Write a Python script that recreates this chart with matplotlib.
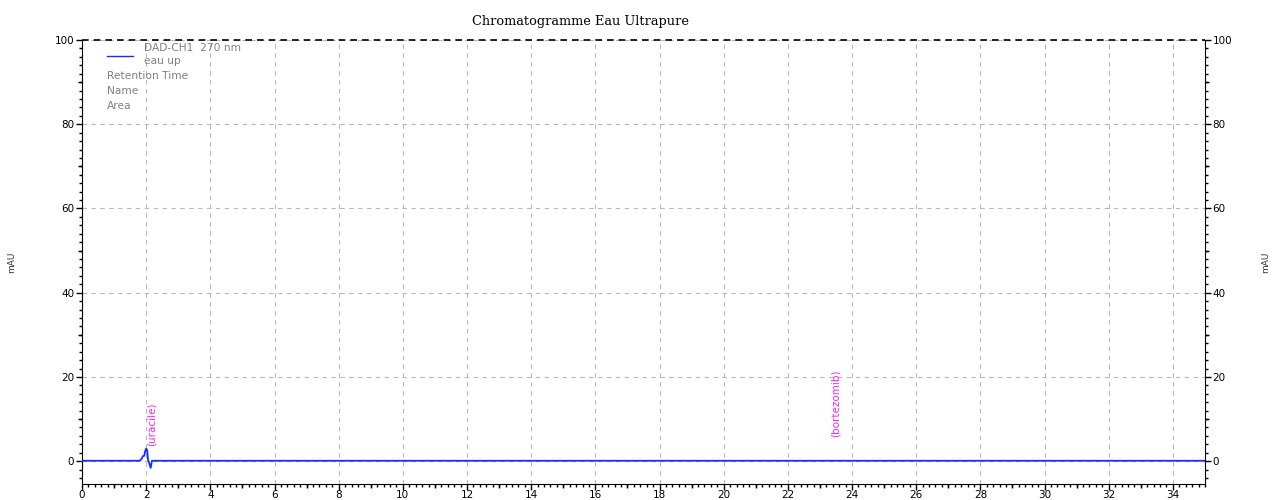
import numpy as np
import matplotlib.pyplot as plt
from matplotlib.ticker import MultipleLocator, NullFormatter

# Data
time_min = [0.0, 1.80, 1.86, 1.90, 1.94, 1.97, 2.00, 2.03, 2.06, 2.10, 2.14, 2.18, 2.22, 35.0]
absorb_mau = [0.1, 0.1, 0.6, 1.2, 1.3, 2.4, 3.0, 2.6, 0.2, -0.6, -1.6, 0.1, 0.1, 0.1]

peak_names = ["(uracile)", "(bortezomib)"]
peak_times = [2.17, 23.5]
peak_label_y = [3.6, 5.8]

TITLE = "Chromatogramme Eau Ultrapure"
legend_lines = ["DAD-CH1  270 nm", "eau up"]
info_lines = ["Retention Time", "Name", "Area"]

plt.rcParams["font.family"] = ["DejaVu Sans"]

fig = plt.figure(figsize=(12.73, 5.0), dpi=100)
ax = fig.add_axes([82 / 1273, 1 - 483.5 / 500, (1205 - 82) / 1273, (483.5 - 40) / 500])

ax.plot(time_min, absorb_mau, color="#1a2cff", lw=1.3, zorder=3)

ax.set_xlim(0, 35)
ax.set_ylim(-5.3, 100)

ax.xaxis.set_major_locator(MultipleLocator(2))
ax.xaxis.set_minor_locator(MultipleLocator(0.2))
ax.yaxis.set_major_locator(MultipleLocator(20))
ax.yaxis.set_minor_locator(MultipleLocator(2))
ax.tick_params(which="major", length=4, width=1, labelsize=7.5, direction="out", pad=1.5)
ax.tick_params(which="minor", length=2.2, width=1, direction="out")
ax.tick_params(axis="y", which="both", left=True, right=True, labelright=True)
ax.tick_params(axis="x", which="both", top=False, pad=0.5)

# medium ticks
sx = ax.secondary_xaxis("bottom")
sx.set_xticks(np.arange(1, 35, 2))
sx.xaxis.set_major_formatter(NullFormatter())
sx.tick_params(length=3.2, width=1)
sx.spines["bottom"].set_visible(False)
for side in ["left", "right"]:
    sy = ax.secondary_yaxis(side)
    sy.set_yticks([10, 30, 50, 70, 90])
    sy.yaxis.set_major_formatter(NullFormatter())
    sy.tick_params(length=3.2, width=1)
    sy.spines[side].set_visible(False)

ax.grid(True, which="major", color="#b8b8b8", ls=(0, (4, 4)), lw=0.8)
ax.spines["top"].set_visible(False)
ax.axhline(100, color="black", ls=(0, (4, 3)), lw=1.2, clip_on=False)

for name, t, y in zip(peak_names, peak_times, peak_label_y):
    ax.text(t, y, name, rotation=90, color="#ff22ff", fontsize=7.5,
            ha="center", va="bottom")

fig.text(12 / 1273, 1 - 262 / 500, "mAU", rotation=90, fontsize=6.5,
         ha="center", va="center", color="#333333")
fig.text(1266 / 1273, 1 - 262 / 500, "mAU", rotation=90, fontsize=6.5,
         ha="center", va="center", color="#333333")

fig.text(580 / 1273, 1 - 22 / 500, TITLE, family="DejaVu Serif", fontsize=9.3,
         ha="center", va="center")

# legend block
ax.plot([0.78, 1.6], [96.3, 96.3], color="#1a2cff", lw=1.0, clip_on=False)
ax.text(1.92, 98.2, legend_lines[0], fontsize=7.7, color="#808080", va="center")
ax.text(1.92, 95.0, legend_lines[1], fontsize=7.7, color="#808080", va="center")
for i, line in enumerate(info_lines):
    ax.text(0.78, 91.5 - i * 3.55, line, fontsize=7.7, color="#808080", va="center")

fig.savefig("out.png", dpi=100)
